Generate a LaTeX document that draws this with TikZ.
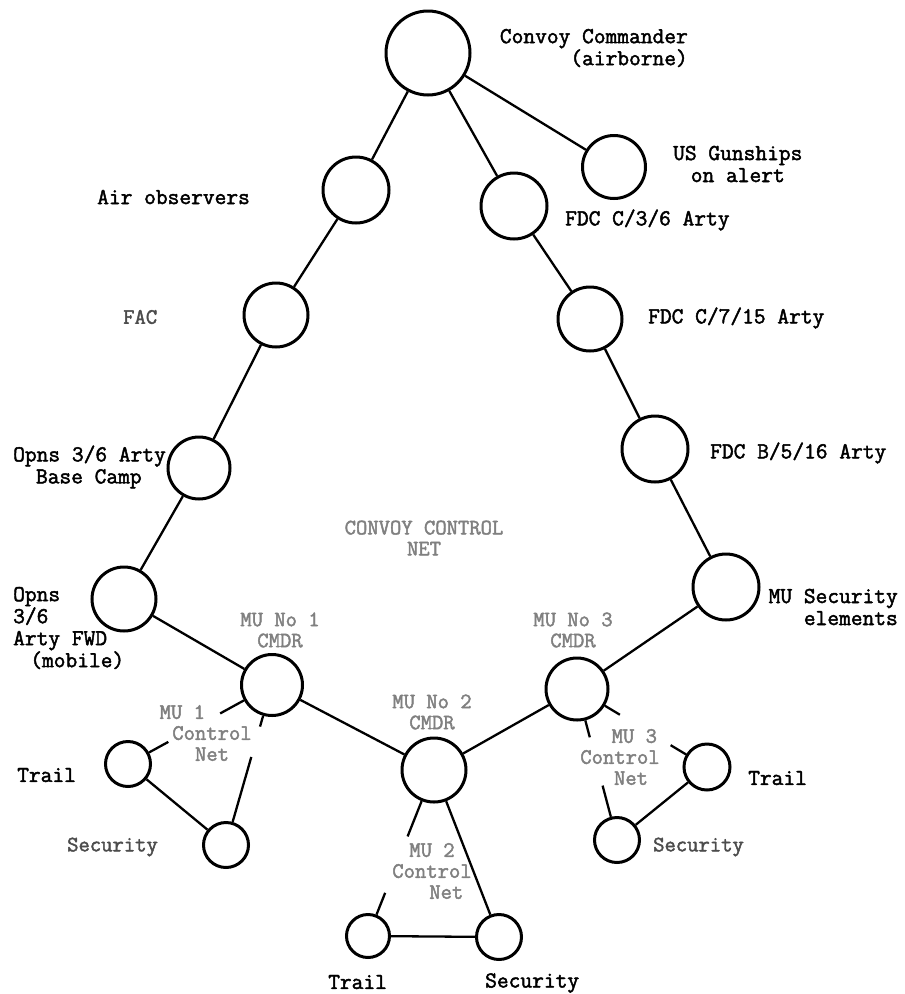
\documentclass[tikz,border=0pt]{standalone}
\usepackage{fontspec}
\setmonofont{Latin Modern Mono}[AutoFakeBold=2]
\usetikzlibrary{calc}
\begin{document}
\begin{tikzpicture}[x=1pt,y=-1pt,
  st/.style={circle, draw, line width=3pt, inner sep=0pt},
  con/.style={line width=2.3pt},
  lab/.style={font=\fontsize{22.8}{22}\selectfont\ttfamily\bfseries, inner sep=0pt, text=black},
  faint/.style={font=\fontsize{22}{21}\selectfont\ttfamily\bfseries, inner sep=0pt, text=black!50, align=center},
]
\useasboundingbox (0,0) rectangle (905,994);
% stations
\node[st, minimum size=84] (cc) at (428,53) {};
\node[st, minimum size=63] (gun) at (614,167) {};
\node[st, minimum size=66] (air) at (356,190) {};
\node[st, minimum size=66] (f36) at (514,206) {};
\node[st, minimum size=64] (fac) at (276,315) {};
\node[st, minimum size=62] (ob) at (199,468) {};
\node[st, minimum size=64] (f715) at (590,319) {};
\node[st, minimum size=66] (f516) at (655,449) {};
\node[st, minimum size=66] (mus) at (726,587) {};
\node[st, minimum size=64] (ofw) at (124,599) {};
\node[st, minimum size=61] (mu1) at (272,685) {};
\node[st, minimum size=45] (t1) at (128,764) {};
\node[st, minimum size=45] (s1) at (226,845) {};
\node[st, minimum size=64] (mu2) at (434,770) {};
\node[st, minimum size=43] (t2) at (368,936) {};
\node[st, minimum size=45] (s2) at (499,937) {};
\node[st, minimum size=62] (mu3) at (577,689) {};
\node[st, minimum size=46] (t3) at (707,767) {};
\node[st, minimum size=45] (s3) at (617,840) {};
% connectors
\draw[con] (cc) -- (air);
\draw[con] (cc) -- (f36);
\draw[con] (cc) -- (gun);
\draw[con] (air) -- (fac);
\draw[con] (fac) -- (ob);
\draw[con] (ob) -- (ofw);
\draw[con] (ofw) -- (mu1);
\draw[con] (mu1) -- (mu2);
\draw[con] (mu2) -- (mu3);
\draw[con] (mu3) -- (mus);
\draw[con] (mus) -- (f516);
\draw[con] (f516) -- (f715);
\draw[con] (f715) -- (f36);
% MU 1 control net
\draw[con] (mu1) -- ($(mu1)!0.36!(t1)$);
\draw[con] ($(mu1)!0.72!(t1)$) -- (t1);
\draw[con] (mu1) -- ($(mu1)!0.26!(s1)$);
\draw[con] ($(mu1)!0.45!(s1)$) -- (s1);
\draw[con] (t1) -- (s1);
% MU 2 control net
\draw[con] (mu2) -- ($(mu2)!0.40!(t2)$);
\draw[con] ($(mu2)!0.74!(t2)$) -- (t2);
\draw[con] (mu2) -- (s2);
\draw[con] (t2) -- (s2);
% MU 3 control net
\draw[con] (mu3) -- ($(mu3)!0.33!(t3)$);
\draw[con] ($(mu3)!0.72!(t3)$) -- (t3);
\draw[con] (mu3) -- ($(mu3)!0.32!(s3)$);
\draw[con] ($(mu3)!0.64!(s3)$) -- (s3);
\draw[con] (t3) -- (s3);
% labels
\node[lab, anchor=east, align=right] (lcc) at (688,48) {Convoy Commander\\(airborne)};
\node[lab, anchor=west, align=center] (lgun) at (673,164) {US Gunships\\on alert};
\node[lab, anchor=west] (lf36) at (565,220) {FDC C/3/6 Arty};
\node[lab, anchor=west] (lf715) at (648,318) {FDC C/7/15 Arty};
\node[lab, anchor=west] (lf516) at (710,453) {FDC B/5/16 Arty};
\node[lab, anchor=east, align=right] (lmus) at (898,607) {MU Security\\elements};
\node[lab, anchor=west] (lair) at (97,197) {Air observers};
\node[faint, anchor=west, text=black!70] (lfac) at (123,317) {FAC};
\node[lab, anchor=west, align=left] (lob) at (13,467) {Opns 3/6 Arty\\\hspace*{1em}Base Camp};
\node[lab, anchor=west, align=left] (lofw) at (13,628) {Opns\\3/6\\Arty FWD\\\hspace*{0.75em}(mobile)};
\node[faint] (lnet) at (424,538) {CONVOY CONTROL\\NET};
\node[faint] (lmu1) at (280,630) {MU No 1\\CMDR};
\node[faint] (lnet1) at (212,733) {MU 1\hspace*{2.7em}\\Control\\Net};
\node[faint] (lmu2) at (432,712) {MU No 2\\CMDR};
\node[faint] (lnet2) at (432,871) {MU 2\\Control\\\hspace*{1.3em}Net};
\node[faint] (lmu3) at (573,630) {MU No 3\\CMDR};
\node[faint] (lnet3) at (620,757) {\hspace*{1.3em}MU 3\\Control\\\hspace*{1em}Net};
\node[lab, anchor=west] (lt1) at (17,775) {Trail};
\node[lab, anchor=west] (lt2) at (328,982) {Trail};
\node[lab, anchor=west] (lt3) at (748,778) {Trail};
\node[faint, anchor=west, text=black!70] (ls1) at (67,847) {Security};
\node[lab, anchor=west] (ls2) at (485,983) {Security};
\node[faint, anchor=west, text=black!70] (ls3) at (653,847) {Security};
\end{tikzpicture}
\end{document}
